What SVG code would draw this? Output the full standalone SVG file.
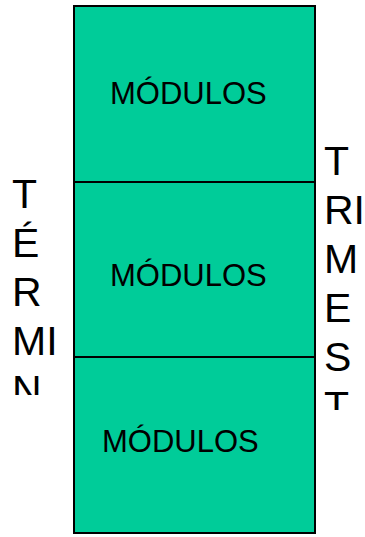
<svg xmlns="http://www.w3.org/2000/svg" width="365" height="537" viewBox="0 0 365 537">
<style>
.box{fill:#00CC99;stroke:#000;stroke-width:2}
.lbl{font-family:"Liberation Sans",Arial,sans-serif;font-size:31px;fill:#000}
.side{font-family:"Liberation Sans",Arial,sans-serif;font-size:41px;fill:#000}
</style>
<defs>
<clipPath id="clipL"><rect x="0" y="150" width="72" height="245"/></clipPath>
<clipPath id="clipR"><rect x="317" y="120" width="48" height="290"/></clipPath>
</defs>
<rect width="365" height="537" fill="#fff"/>
<g id="node-top"><rect class="box" x="74" y="6" width="241" height="176"/><text class="lbl" x="110" y="104">MÓDULOS</text></g>
<g id="node-middle"><rect class="box" x="74" y="182" width="241" height="175"/><text class="lbl" x="110" y="286">MÓDULOS</text></g>
<g id="node-bottom"><rect class="box" x="74" y="357" width="241" height="176"/><text class="lbl" x="102" y="452">MÓDULOS</text></g>
<g id="label-left" clip-path="url(#clipL)">
<text class="side" x="12" y="208">T</text>
<text class="side" x="12" y="257">É</text>
<text class="side" x="12" y="306">R</text>
<text class="side" x="12" y="355">MI</text>
<text class="side" x="12" y="404">N</text>
</g>
<g id="label-right" clip-path="url(#clipR)">
<text class="side" x="324" y="175">T</text>
<text class="side" x="324" y="224">RI</text>
<text class="side" x="324" y="273">M</text>
<text class="side" x="324" y="322">E</text>
<text class="side" x="324" y="371">S</text>
<text class="side" x="324" y="420">T</text>
</g>
<g id="connectors"/>
</svg>
